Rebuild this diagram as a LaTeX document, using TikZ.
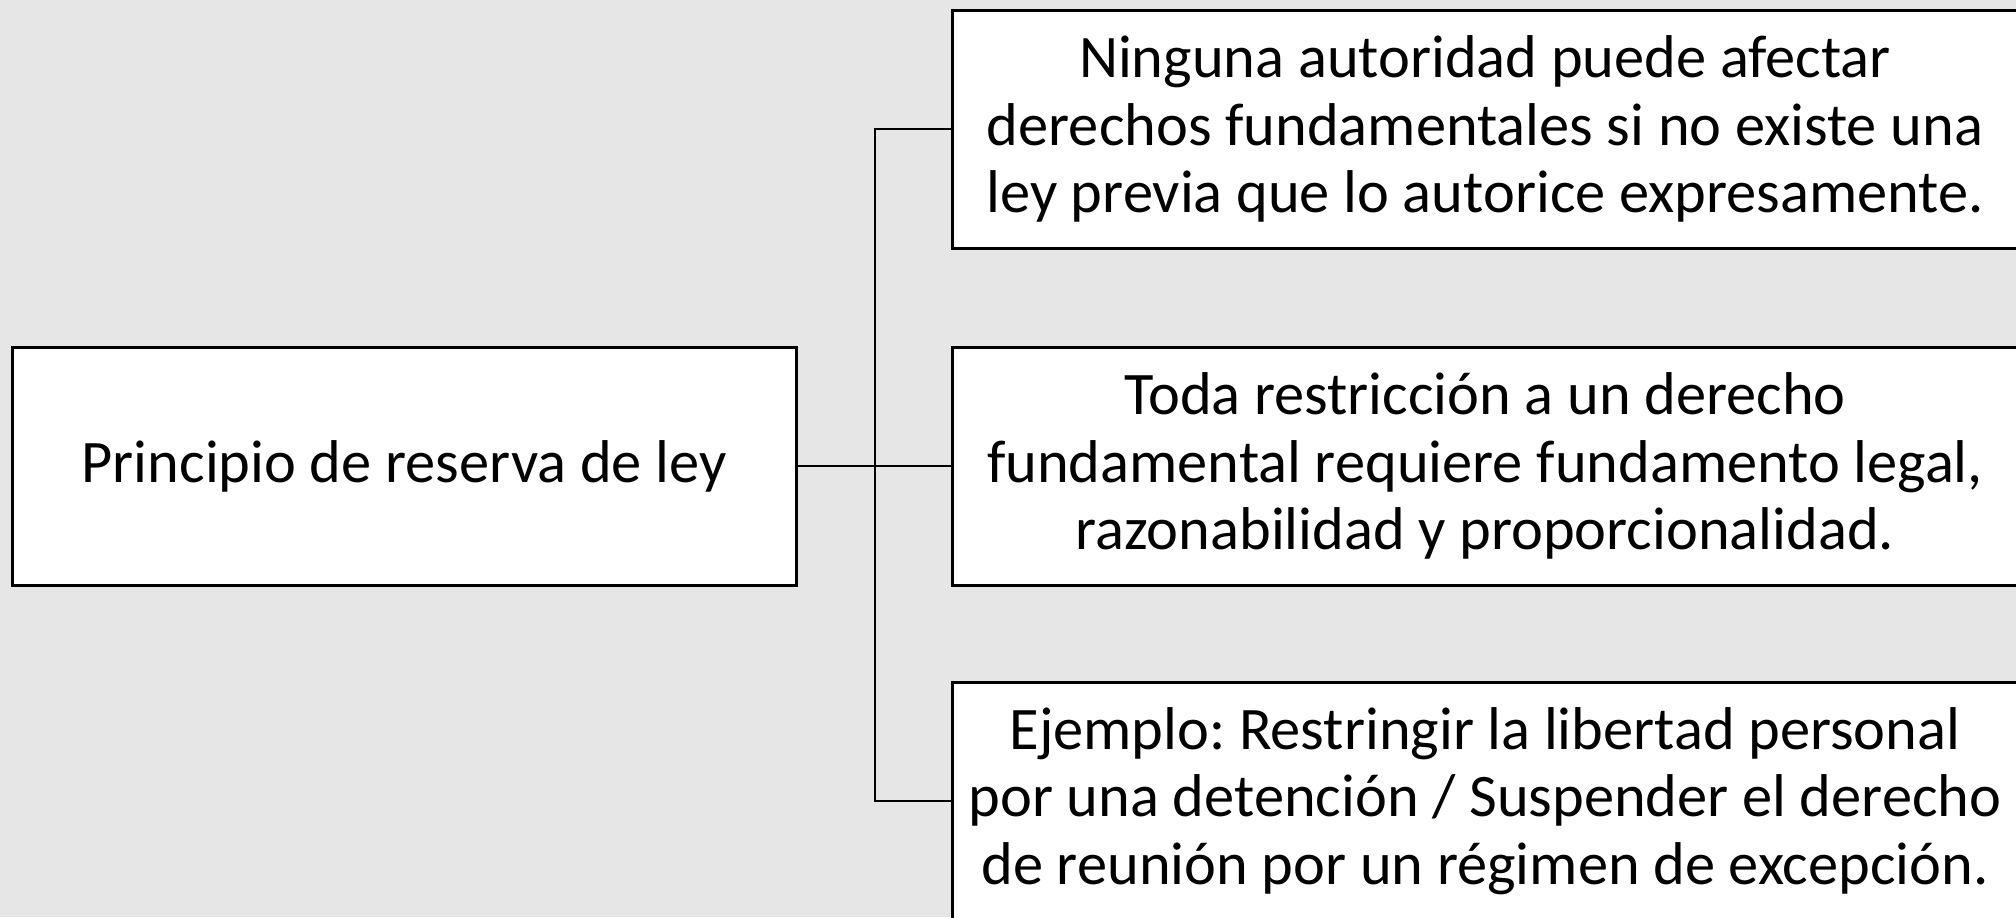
\documentclass[tikz,border=0pt]{standalone}
\usepackage{fontspec}
\setmainfont{Carlito}
\usepackage{xcolor}
\definecolor{slideGray}{HTML}{E6E6E6}
\newcommand{\boxFont}{\fontsize{30.2}{33.6}\selectfont\frenchspacing}
\newcommand{\pageWidth}{2016}
\newcommand{\pageHeight}{917}
\newcommand{\trunkX}{875}

\begin{document}
\begin{tikzpicture}[x=0.5pt, y=-0.5pt,
   conceptBox/.style={draw, line width=1.5pt, fill=white, align=center, inner sep=0pt,
      minimum height=119pt, font=\boxFont},
   rootBox/.style={conceptBox, minimum width=392pt},
   leafBox/.style={conceptBox, minimum width=533pt},
   branch/.style={draw, line width=1pt}]
      \useasboundingbox[fill=slideGray] (0,0) rectangle (\pageWidth,\pageHeight);

\node[rootBox] (principio) at (404,466) {Principio de reserva de ley};
\node[leafBox] (autoridad) at (1485,129) {Ninguna autoridad puede afectar\\derechos fundamentales si no existe una\\ley previa que lo autorice expresamente.};
\node[leafBox] (restriccion) at (1485,466) {Toda restricción a un derecho\\fundamental requiere fundamento legal,\\razonabilidad y proporcionalidad.};
\node[leafBox] (ejemplo) at (1485,801) {Ejemplo: Restringir la libertad personal\\por una detención / Suspender el derecho\\de reunión por un régimen de excepción.};

\coordinate (trunk) at (\trunkX,466);

         \draw[branch] (principio.east) -- (restriccion.west);
         \draw[branch] (autoridad.west) -| (trunk) |- (ejemplo.west);

   \end{tikzpicture}
\end{document}
